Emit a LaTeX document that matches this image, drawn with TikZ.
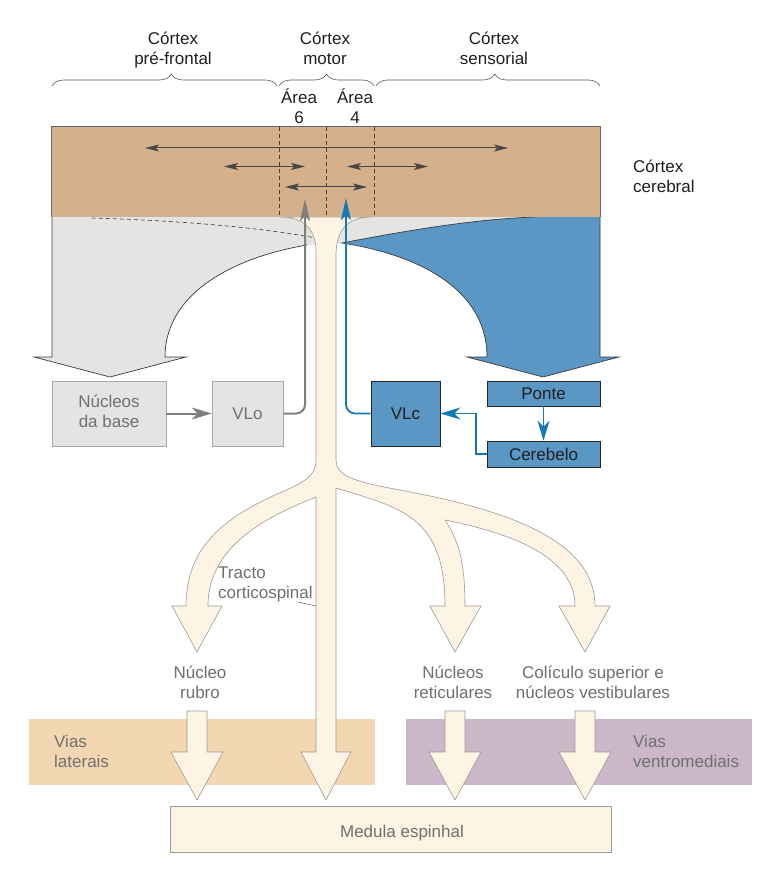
\documentclass[tikz,border=0pt]{standalone}
\usepackage{fontspec}
\setmainfont{Liberation Sans}
\usetikzlibrary{arrows.meta,decorations.pathreplacing}
\definecolor{cortexfill}{HTML}{D4B08C}
\definecolor{grayfill}{HTML}{E4E4E3}
\definecolor{bluefill}{HTML}{5B97C5}
\definecolor{bluearrow}{HTML}{1479B8}
\definecolor{creamfill}{HTML}{FDF4E3}
\definecolor{viaslat}{HTML}{F3D6B2}
\definecolor{viasvm}{HTML}{CBB7C7}
\definecolor{labelgray}{HTML}{707070}
\definecolor{edgegray}{HTML}{9A9A9A}
\definecolor{darkedge}{HTML}{3A3A3A}
\definecolor{arrowgray}{HTML}{7F7F7F}
\definecolor{boxedge}{HTML}{A9A9A9}
\newcommand\twoline[2][c]{\begin{tabular}[b]{@{}#1@{}}#2\end{tabular}}
\begin{document}
\begin{tikzpicture}[x=1pt,y=-1pt,
  lbl/.style={font=\fontsize{17}{20}\selectfont, inner sep=0pt, text=black!88},
  glbl/.style={lbl, text=labelgray},
  cream/.style={fill=creamfill, draw=edgegray, line width=0.6pt},
  cxarrow/.style={draw=black!72, line width=1pt, {Stealth[length=14pt,width=7pt,inset=3pt]}-{Stealth[length=14pt,width=7pt,inset=3pt]}},
  gbox/.style={lbl, text=labelgray, fill=grayfill, draw=boxedge, line width=0.6pt, minimum height=65pt},
  bbox/.style={lbl, fill=bluefill, draw=black!85, line width=0.8pt},
  garrow/.style={draw=arrowgray, line width=2pt, -{Stealth[length=20pt,width=12pt,inset=6pt]}},
  barrow/.style={draw=bluearrow, line width=1.8pt, -{Stealth[length=20pt,width=12pt,inset=6pt]}},
  bracelbl/.style={decorate, decoration={brace, amplitude=12pt, aspect=#1}, draw=black!65, line width=0.6pt},
  edgeline/.style={draw=darkedge, line width=0.7pt},
]
\path[use as bounding box] (0,0) rectangle (772,882);

% lateral / ventromedial bands
\node[fill=viaslat, minimum width=346pt, minimum height=66pt, inner sep=0pt] (vlat) at (202,752) {};
\node[fill=viasvm, minimum width=346pt, minimum height=66pt, inner sep=0pt] (vvm) at (579,752) {};

% gray projection
\fill[grayfill] (52,217) -- (52,357) -- (34,357) -- (110,377) -- (186,357) -- (165,357)
  .. controls (165,295) and (230,258) .. (307,245) -- (342,243)
  .. controls (420,228) and (480,219) .. (535,217) -- cycle;
% blue projection
\fill[bluefill] (535,217) -- (600,217) -- (600,357) -- (619,357) -- (543,377) -- (467,357) -- (487,357)
  .. controls (487,290) and (420,255) .. (342,243)
  .. controls (420,228) and (480,219) .. (535,217) -- cycle;
\draw[edgeline] (600,217) -- (600,357) -- (619,357) -- (543,377) -- (467,357) -- (487,357)
  .. controls (487,290) and (420,255) .. (342,243)
  .. controls (420,228) and (480,219) .. (535,217);
\draw[edgeline] (52,217) -- (52,357) -- (34,357) -- (110,377) -- (186,357) -- (165,357)
  .. controls (165,295) and (230,258) .. (307,245);
\draw[edgeline, line width=0.6pt, dash pattern=on 4pt off 3pt] (92,218) .. controls (190,221) and (262,228) .. (316,238);

% cream corticofugal tract
\filldraw[cream] (280,217) .. controls (305,217) and (316,230) .. (316,252) -- (316,460)
  .. controls (316,478) and (300,484) .. (275,495)
  .. controls (220,520) and (186,550) .. (186,606)
  -- (172,606) -- (197,652) -- (222,606) -- (208,606)
  .. controls (208,540) and (280,512) .. (316,497)
  -- (316,752) -- (301,752) -- (326,800) -- (351,752) -- (336,752) -- (336,488)
  .. controls (400,508) and (445,515) .. (445,606)
  -- (430,606) -- (455,652) -- (481,606) -- (465,606)
  .. controls (465,560) and (458,540) .. (445,520)
  .. controls (520,535) and (575,560) .. (575,606)
  -- (559,606) -- (585,652) -- (610,606) -- (595,606)
  .. controls (595,545) and (520,512) .. (400,490)
  .. controls (355,482) and (336,476) .. (336,460)
  -- (336,253) .. controls (337,230) and (347,217) .. (372,217) -- cycle;

% cortex
\node[fill=cortexfill, minimum width=548pt, minimum height=90pt, inner sep=0pt] (cortex) at (326,172) {};
\draw[black!60, line width=0.8pt] (cortex.south west) -- (cortex.north west) -- (cortex.north east) -- (cortex.south east);
\foreach \xx in {279,326.5,374}
  \draw[black!75, line width=0.6pt, dash pattern=on 4pt off 3pt] (\xx,127) -- (\xx,217);
\draw[cxarrow] (145,148) -- (508,148);
\draw[cxarrow] (224,166.5) -- (305,166.5);
\draw[cxarrow] (347,166.5) -- (428,166.5);
\draw[cxarrow] (285,187) -- (367,187);

% lower arrows
\filldraw[cream] (187,711) -- (207,711) -- (207,752) -- (223,752) -- (197,800) -- (171,752) -- (187,752) -- cycle;
\filldraw[cream] (445,711) -- (465,711) -- (465,752) -- (481,752) -- (455,800) -- (429,752) -- (445,752) -- cycle;
\filldraw[cream] (575,711) -- (595,711) -- (595,752) -- (611,752) -- (585,800) -- (559,752) -- (575,752) -- cycle;

% spinal cord
\node[fill=creamfill, draw=edgegray, line width=0.7pt, minimum width=441pt, minimum height=46pt, inner sep=0pt] (medula) at (390.5,829) {};

% boxes
\node[gbox, minimum width=114pt] (nuc) at (109,413.5) {\twoline{Núcleos\\da base}};
\node[gbox, minimum width=71pt] (vlo) at (247.5,413.5) {VLo};
\node[bbox, minimum width=69pt, minimum height=65pt] (vlc) at (405.5,413.5) {VLc};
\node[bbox, minimum width=113pt, minimum height=25pt] (ponte) at (543.5,393.5) {Ponte};
\node[bbox, minimum width=113pt, minimum height=26pt] (cereb) at (543.5,454) {Cerebelo};

% connectors
\coordinate (gtip) at (305,199);
\coordinate (btip) at (346,198);
\draw[garrow] (nuc) -- (vlo);
\draw[draw=arrowgray, line width=2pt, rounded corners=9pt, -{Stealth[length=22pt,width=10pt,inset=5pt]}] (vlo.east) -- (vlo.east -| gtip) -- (gtip);
\draw[draw=bluearrow, line width=1.8pt, rounded corners=9pt, -{Stealth[length=22pt,width=10pt,inset=5pt]}] (vlc.west) -- (vlc.west -| btip) -- (btip);
\draw[barrow] (ponte) -- (cereb);
\draw[barrow] (cereb.west) -- ++(-11,0) |- (vlc.east);

% labels
\node[lbl, anchor=base] (lpf) at (173,65) {\twoline{Córtex\\pré-frontal}};
\node[lbl, anchor=base] (lmot) at (325,65) {\twoline{Córtex\\motor}};
\node[lbl, anchor=base] (lsen) at (494,65) {\twoline{Córtex\\sensorial}};
\draw[bracelbl=0.53] (52,86) -- (277,86);
\draw[bracelbl=0.5] (279,86) -- (374,86);
\draw[bracelbl=0.53] (376,86) -- (600,86);
\node[lbl, anchor=base] (a6) at (299,124) {\twoline{Área\\6}};
\node[lbl, anchor=base] (a4) at (355,124) {\twoline{Área\\4}};
\node[lbl, anchor=base west] (lcc) at (633,193) {\twoline[l]{Córtex\\cerebral}};
\node[glbl, anchor=base west] (tracto) at (218,598) {\twoline[l]{Tracto\\corticospinal}};
\coordinate (ldA) at (298,602);
\coordinate (ldB) at (316,606);
\draw[labelgray, line width=0.6pt] (ldA) -- (ldB);
\node[glbl, anchor=base] (rubro) at (200,698) {\twoline{Núcleo\\rubro}};
\node[glbl, anchor=base] (retic) at (453,698) {\twoline{Núcleos\\reticulares}};
\node[glbl, anchor=base] (colic) at (593,698) {\twoline{Colículo superior e\\núcleos vestibulares}};
\node[glbl, anchor=base west] (tlat) at (54,767) {\twoline[l]{Vias\\laterais}};
\node[glbl, anchor=base west] (tvm) at (633,767) {\twoline[l]{Vias\\ventromediais}};
\node[glbl, anchor=base] (tmed) at (402,837) {Medula espinhal};
\end{tikzpicture}
\end{document}
